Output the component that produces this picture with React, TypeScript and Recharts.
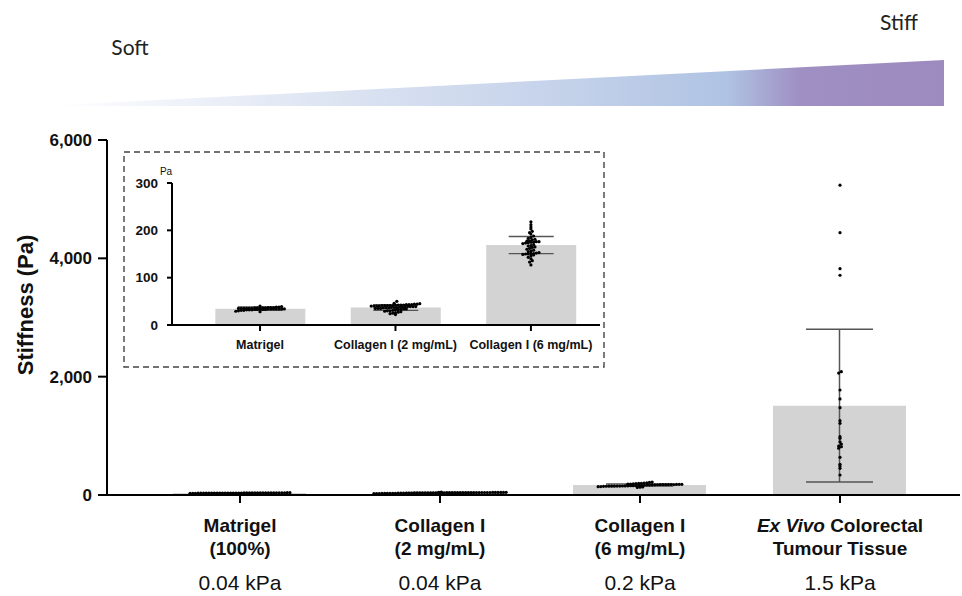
import React from 'react';
import { ComposedChart, Bar, Scatter, XAxis, YAxis, ErrorBar } from 'recharts';

// ---------- data ----------
const categoryItalic = ['', '', '', 'Ex Vivo'];
const categoryLine1 = ['Matrigel', 'Collagen I', 'Collagen I', 'Colorectal'];
const categoryLine2 = ['(100%)', '(2 mg/mL)', '(6 mg/mL)', 'Tumour Tissue'];
const stiffnessLabels = ['0.04 kPa', '0.04 kPa', '0.2 kPa', '1.5 kPa'];
const insetCategories = ['Matrigel', 'Collagen I (2 mg/mL)', 'Collagen I (6 mg/mL)'];

const groupMeans = [34.5, 37, 169, 1510];
const groupSDs = [3.5, 6, 18, 1290];

const matrigelPoints = [34, 35, 33, 36, 37, 32, 34, 35, 31, 38, 36, 33, 34, 29, 35, 37, 39, 33, 32, 36, 34, 35, 30, 38, 34, 33, 36, 35, 31, 34, 37, 33, 35, 36, 32, 40, 34, 28];
const collagen2Points = [41, 42, 40, 43, 39, 38, 44, 41, 36, 35, 33, 30, 28, 25, 22, 34, 37, 39, 42, 40, 45, 43, 41, 38, 36, 32, 29, 27, 31, 35, 37, 40, 42, 44, 41, 39, 50, 46, 38, 36, 34, 33, 30, 26, 24, 37, 39, 41, 43, 40, 42, 35];
const collagen6Points = [218, 212, 207, 203, 198, 195, 192, 188, 185, 183, 181, 180, 178, 177, 176, 175, 175, 174, 176, 173, 172, 170, 168, 167, 165, 164, 162, 160, 158, 156, 155, 153, 152, 151, 150, 150, 149, 151, 148, 146, 143, 140, 136, 133, 127];
const exVivoPoints = [5236, 4434, 3826, 3714, 2085, 2060, 1775, 1623, 1476, 1256, 1212, 986, 958, 900, 862, 828, 817, 790, 637, 519, 490, 451, 338];

const mainTicksY = [0, 2000, 4000, 6000];
const insetTicksY = [0, 100, 200, 300];

// ---------- layout ----------
const FONT = '"Liberation Sans", Arial, Helvetica, sans-serif';
const MAIN = { w: 962, h: 596, left: 107, right: 2, top: 140, xAxisH: 101 };
const MAIN_XDOMAIN: [number, number] = [-0.665, 3.6];
const MAIN_YDOMAIN: [number, number] = [0, 6000];
const INSET = { x: 124, y: 152, w: 480, h: 215, yAxisW: 48, right: 4, top: 31, xAxisH: 42 };
const INSET_XDOMAIN: [number, number] = [-0.65, 2.51];
const INSET_YDOMAIN: [number, number] = [0, 300];
const DOT_R = 1.6;
const DOT_SPACING = 2.7;

// Prism-like column scatter: bin values by dot height, spread each bin horizontally
function swarm(groups: number[][], pxPerValue: number, pxPerUnitX: number) {
  const out: { x: number; y: number }[] = [];
  groups.forEach((values, gi) => {
    const bins = new Map<number, number[]>();
    values.forEach((v) => {
      const b = Math.floor((v * pxPerValue) / DOT_SPACING);
      if (!bins.has(b)) bins.set(b, []);
      bins.get(b)!.push(v);
    });
    bins.forEach((list) => {
      const sorted = [...list].sort((a, b) => a - b);
      const m = sorted.length;
      sorted.forEach((v, k) => {
        const off = (k - (m - 1) / 2) * DOT_SPACING;
        out.push({ x: gi + off / pxPerUnitX, y: v });
      });
    });
  });
  return out;
}

const mainPlotW = MAIN.w - MAIN.left - MAIN.right;
const mainPlotH = MAIN.h - MAIN.top - MAIN.xAxisH;
const mainPoints = swarm(
  [matrigelPoints, collagen2Points, collagen6Points, exVivoPoints],
  mainPlotH / (MAIN_YDOMAIN[1] - MAIN_YDOMAIN[0]),
  mainPlotW / (MAIN_XDOMAIN[1] - MAIN_XDOMAIN[0])
);
const mainBars = groupMeans.map((m, i) => ({ x: i, mean: m, sd: groupSDs[i] }));

const insetPlotW = INSET.w - INSET.yAxisW - INSET.right;
const insetPlotH = INSET.h - INSET.top - INSET.xAxisH;
const insetPoints = swarm(
  [matrigelPoints, collagen2Points, collagen6Points],
  insetPlotH / (INSET_YDOMAIN[1] - INSET_YDOMAIN[0]),
  insetPlotW / (INSET_XDOMAIN[1] - INSET_XDOMAIN[0])
);
const insetBars = groupMeans.slice(0, 3).map((m, i) => ({ x: i, mean: m, sd: groupSDs[i] }));

const Dot = (props: any) => <circle cx={props.cx} cy={props.cy} r={DOT_R} fill="#000" />;

const MainXTick = (props: any) => {
  const { x, y, payload } = props;
  const i = Math.round(payload.value);
  return (
    <g>
      <text x={x} y={y + 29} textAnchor="middle" fontFamily={FONT} fontWeight="bold" fontSize={19} fill="#111">
        {categoryItalic[i] ? <tspan fontStyle="italic">{categoryItalic[i] + ' '}</tspan> : null}
        <tspan>{categoryLine1[i]}</tspan>
      </text>
      <text x={x} y={y + 52} textAnchor="middle" fontFamily={FONT} fontWeight="bold" fontSize={19} fill="#111">
        {categoryLine2[i]}
      </text>
      <text x={x} y={y + 87} textAnchor="middle" fontFamily={FONT} fontSize={21} fill="#111">
        {stiffnessLabels[i]}
      </text>
    </g>
  );
};

const InsetXTick = (props: any) => {
  const { x, y, payload } = props;
  const i = Math.round(payload.value);
  return (
    <text x={x} y={y + 18} textAnchor="middle" fontFamily={FONT} fontWeight="bold" fontSize={12.5} fill="#111">
      {insetCategories[i]}
    </text>
  );
};

export default function App() {
  return (
    <div style={{ position: 'absolute', left: 0, top: 0, width: 962, height: 596, background: '#fff' }}>
      <div style={{ position: 'absolute', left: 0, top: 0 }}>
        <ComposedChart width={MAIN.w} height={MAIN.h} data={mainBars} margin={{ top: MAIN.top, right: MAIN.right, bottom: 0, left: 0 }}>
          <XAxis
            xAxisId="cat"
            dataKey="x"
            type="number"
            domain={MAIN_XDOMAIN}
            ticks={[0, 1, 2, 3]}
            height={MAIN.xAxisH}
            axisLine={{ stroke: '#000', strokeWidth: 2 }}
            tickLine={{ stroke: '#000', strokeWidth: 2 }}
            tickSize={8}
            tickMargin={0}
            tick={<MainXTick />}
            allowDataOverflow
          />
          <XAxis xAxisId="pts" dataKey="x" type="number" domain={MAIN_XDOMAIN} hide allowDataOverflow />
          <YAxis
            type="number"
            domain={MAIN_YDOMAIN}
            ticks={mainTicksY}
            width={MAIN.left}
            axisLine={{ stroke: '#000', strokeWidth: 2 }}
            tickLine={{ stroke: '#000', strokeWidth: 2 }}
            tickSize={9}
            tickMargin={6}
            tickFormatter={(v: number) => v.toLocaleString('en-US')}
            tick={{ fontFamily: FONT, fontWeight: 'bold', fontSize: 17, fill: '#111' }}
            label={{
              content: () => (
                <text x={25} y={305} transform="rotate(-90, 25, 305)" textAnchor="middle" dominantBaseline="central" fontFamily={FONT} fontWeight="bold" fontSize={22} fill="#111">
                  Stiffness (Pa)
                </text>
              ),
            }}
          />
          <Bar xAxisId="cat" dataKey="mean" fill="#d3d3d3" barSize={133} isAnimationActive={false}>
            <ErrorBar dataKey="sd" direction="y" width={33.5} stroke="#555" strokeWidth={1.5} />
          </Bar>
          <Scatter xAxisId="pts" data={mainPoints} dataKey="y" shape={<Dot />} isAnimationActive={false} />
        </ComposedChart>
      </div>

      <svg width={962} height={596} style={{ position: 'absolute', left: 0, top: 0, pointerEvents: 'none' }}>
        <defs>
          <linearGradient id="wedge" x1="0" y1="0" x2="1" y2="0">
            <stop offset="0%" stopColor="#ffffff" />
            <stop offset="30%" stopColor="#dfe6f3" />
            <stop offset="60%" stopColor="#c2d0e9" />
            <stop offset="76%" stopColor="#afc3e3" />
            <stop offset="84%" stopColor="#9f8fc2" />
            <stop offset="100%" stopColor="#9d8abf" />
          </linearGradient>
        </defs>
        <polygon points="42,106 944,60 944,106" fill="url(#wedge)" />
        <text x={130} y={55} textAnchor="middle" fontFamily="Lato, sans-serif" fontSize={21} fill="#222">Soft</text>
        <text x={899} y={30} textAnchor="middle" fontFamily="Lato, sans-serif" fontSize={21} fill="#222">Stiff</text>
        <rect x={INSET.x} y={INSET.y} width={INSET.w} height={INSET.h} fill="none" stroke="#444" strokeWidth={1.4} strokeDasharray="6 4" />
      </svg>

      <div style={{ position: 'absolute', left: INSET.x, top: INSET.y }}>
        <ComposedChart width={INSET.w} height={INSET.h} data={insetBars} margin={{ top: INSET.top, right: INSET.right, bottom: 0, left: 0 }}>
          <XAxis
            xAxisId="cat"
            dataKey="x"
            type="number"
            domain={INSET_XDOMAIN}
            ticks={[0, 1, 2]}
            height={INSET.xAxisH}
            axisLine={{ stroke: '#000', strokeWidth: 2 }}
            tickLine={{ stroke: '#000', strokeWidth: 2 }}
            tickSize={6}
            tickMargin={0}
            tick={<InsetXTick />}
            allowDataOverflow
          />
          <XAxis xAxisId="pts" dataKey="x" type="number" domain={INSET_XDOMAIN} hide allowDataOverflow />
          <YAxis
            type="number"
            domain={INSET_YDOMAIN}
            ticks={insetTicksY}
            width={INSET.yAxisW}
            axisLine={{ stroke: '#000', strokeWidth: 2 }}
            tickLine={{ stroke: '#000', strokeWidth: 2 }}
            tickSize={5}
            tickMargin={9}
            tick={{ fontFamily: FONT, fontWeight: 'bold', fontSize: 13.5, fill: '#111' }}
            label={{
              content: () => (
                <text x={42} y={23} textAnchor="middle" fontFamily={FONT} fontSize={10} fill="#111">
                  Pa
                </text>
              ),
            }}
          />
          <Bar xAxisId="cat" dataKey="mean" fill="#d3d3d3" barSize={90} isAnimationActive={false}>
            <ErrorBar dataKey="sd" direction="y" width={22.5} stroke="#555" strokeWidth={1.3} />
          </Bar>
          <Scatter xAxisId="pts" data={insetPoints} dataKey="y" shape={<Dot />} isAnimationActive={false} />
        </ComposedChart>
      </div>
    </div>
  );
}
